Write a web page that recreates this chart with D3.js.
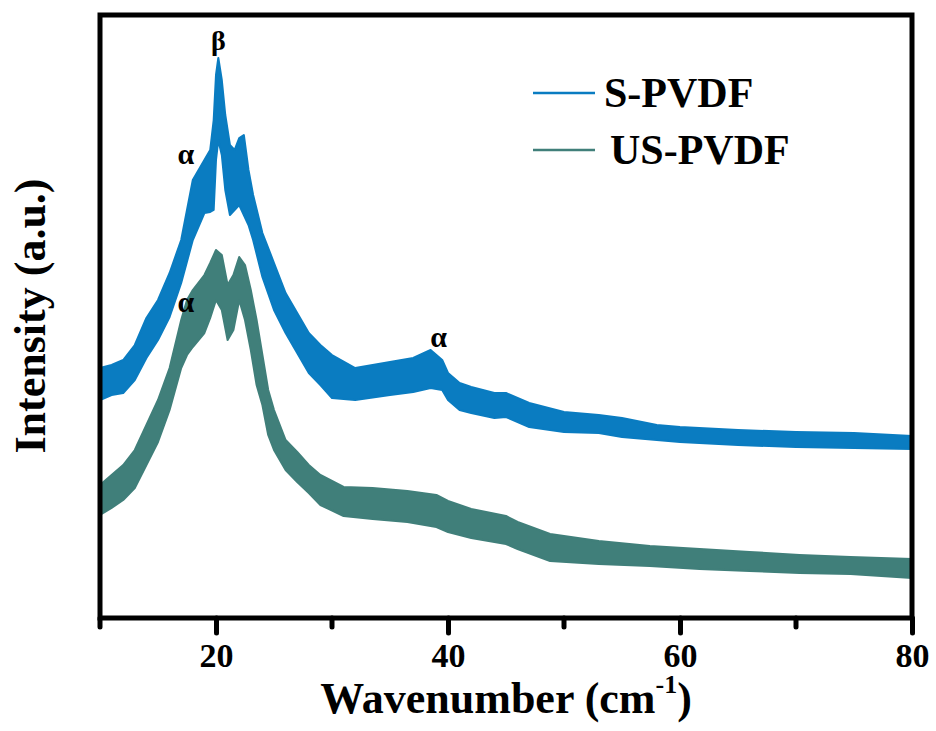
<!DOCTYPE html>
<html>
<head>
    <title>XRD PVDF</title>
    <script src='https://d3js.org/d3.v7.min.js' charset='utf-8'></script>

    <style type="text/css">
        body {
            margin: 0;
            background: #fff;
        }
        .chart text {
            font-family: 'Liberation Serif', 'Times New Roman', serif !important;
            font-weight: 700;
            fill: #000;
        }
    </style>
</head>
<body>
    <svg class='chart'></svg>

    <script type='text/javascript'>
    // S-PVDF: band edges (noise envelope)
    var sX      = [10, 11, 12, 13, 14, 15, 16, 17, 18, 19, 19.5, 19.8, 20, 20.2, 20.5, 20.8, 21.2, 21.6, 22, 22.4, 22.8, 23.2,
                   24, 25, 26, 27, 28, 29, 30, 32, 35, 37, 38.5, 39.5, 40, 41, 42, 44, 45, 47, 50, 53, 55, 58, 60, 65, 70, 75, 80];
    var sTop    = [1250, 1265, 1290, 1365, 1500, 1590, 1725, 1890, 2190, 2290, 2340, 2490, 2715, 2800, 2690, 2515, 2365, 2340, 2400, 2415, 2240, 2115,
                   1925, 1775, 1625, 1525, 1425, 1365, 1315, 1250, 1280, 1300, 1340, 1290, 1225, 1175, 1155, 1125, 1125, 1075, 1030, 1015, 1000, 965, 955, 940, 930, 925, 910];
    var sBottom = [1090, 1115, 1125, 1190, 1300, 1390, 1505, 1675, 1890, 2025, 2030, 2040, 2290, 2390, 2315, 2140, 2015, 2040, 2065, 2015, 1965, 1890,
                   1705, 1540, 1425, 1325, 1225, 1165, 1100, 1090, 1115, 1130, 1150, 1140, 1090, 1040, 1025, 1000, 1005, 955, 930, 925, 905, 890, 880, 865, 855, 850, 845];

    // US-PVDF
    var usX      = [10, 11, 12, 13, 14, 15, 16, 17, 17.5, 18, 19, 19.5, 20, 20.5, 21, 21.5, 22, 22.5, 23, 23.5, 24, 24.5, 25, 26, 27, 28, 29,
                    31, 33.5, 36.5, 39, 40, 42, 45, 46, 48.8, 53, 57.4, 61.7, 66, 70.3, 74.7, 80];
    var usTop    = [665, 715, 765, 840, 965, 1090, 1250, 1490, 1590, 1640, 1715, 1775, 1840, 1815, 1665, 1715, 1805, 1765, 1640, 1490, 1315, 1140, 1040, 890, 830, 765, 715,
                    655, 650, 635, 615, 585, 545, 510, 480, 420, 385, 360, 345, 330, 315, 305, 295];
    var usBottom = [515, 550, 590, 650, 765, 880, 1040, 1250, 1315, 1355, 1425, 1500, 1590, 1540, 1390, 1440, 1590, 1490, 1340, 1165, 1065, 915, 840, 740, 680, 625, 565,
                    510, 495, 480, 455, 430, 400, 370, 345, 285, 270, 260, 245, 235, 225, 220, 200];

    var majorTicks = [20, 40, 60, 80];
    var minorTicks = [10, 30, 50, 70];

    var seriesNames = ['S-PVDF', 'US-PVDF'];
    var seriesColors = ['#0a7cc1', '#407f7a'];

    // peak labels: [x, intensity, symbol]
    var peakLabels = [
        [20.2, 2840, 'β'],
        [17.4, 2270, 'α'],
        [17.4, 1530, 'α'],
        [39.2, 1355, 'α']
    ];

    var width = 936;
    var height = 731;
    var margin = { left: 100, right: 24, top: 15, bottom: 113 };
    var serif = "'Liberation Serif', 'Times New Roman', serif";

    var svg = d3.select('.chart')
        .attr('width', width)
        .attr('height', height);

    var x = d3.scaleLinear()
        .domain([10, 80])
        .range([margin.left, width - margin.right]);

    var y = d3.scaleLinear()
        .domain([0, 3015])
        .range([height - margin.bottom, margin.top]);

    function band(xs, top, bottom) {
        return xs.map(function (v, i) { return { x: v, top: top[i], bottom: bottom[i] }; });
    }

    var area = d3.area()
        .x(function (d) { return x(d.x); })
        .y0(function (d) { return y(d.bottom); })
        .y1(function (d) { return y(d.top); });

    var bands = [band(sX, sTop, sBottom), band(usX, usTop, usBottom)];

    svg.selectAll('.band')
        .data(bands)
        .enter()
            .append('path')
            .attr('class', 'band')
            .attr('d', area)
            .attr('fill', function (d, i) { return seriesColors[i]; })
            .attr('stroke', function (d, i) { return seriesColors[i]; })
            .attr('stroke-width', 2)
            .attr('stroke-linejoin', 'round');

    // frame
    svg.append('rect')
        .attr('x', x(10))
        .attr('y', y(3015))
        .attr('width', x(80) - x(10))
        .attr('height', y(0) - y(3015))
        .attr('fill', 'none')
        .attr('stroke', '#000')
        .attr('stroke-width', 5);

    // bottom axis ticks
    var xAxis = d3.axisBottom(x)
        .tickValues(majorTicks)
        .tickSize(15)
        .tickPadding(10)
        .tickFormat(d3.format('d'));

    var axisG = svg.append('g')
        .attr('transform', 'translate(0,' + y(0) + ')')
        .call(xAxis)
        .attr('font-family', serif);

    axisG.select('.domain').remove();
    axisG.selectAll('line')
        .attr('stroke', '#000')
        .attr('stroke-width', 5)
        .attr('stroke-linecap', 'round');
    axisG.selectAll('text')
        .attr('dy', '0.71em')
        .style('font-family', serif)
        .style('font-weight', 700)
        .style('font-size', '34px')
        .attr('fill', '#000');

    svg.append('g')
        .selectAll('line')
        .data(minorTicks)
        .enter()
            .append('line')
            .attr('x1', function (d) { return x(d); })
            .attr('x2', function (d) { return x(d); })
            .attr('y1', y(0))
            .attr('y2', y(0) + 9)
            .attr('stroke', '#000')
            .attr('stroke-width', 5)
            .attr('stroke-linecap', 'round');

    // axis titles
    var xTitle = svg.append('text')
        .attr('x', (x(10) + x(80)) / 2)
        .attr('y', 713)
        .attr('text-anchor', 'middle')
        .style('font-size', '44px');
    xTitle.append('tspan').text('Wavenumber (cm');
    xTitle.append('tspan').style('font-size', '26px').attr('dy', -20).text('-1');
    xTitle.append('tspan').attr('dy', 20).text(')');

    svg.append('text')
        .attr('transform', 'translate(45,' + 316 + ') rotate(-90)')
        .attr('text-anchor', 'middle')
        .style('font-size', '44px')
        .text('Intensity (a.u.)');

    // legend
    var legend = svg.append('g');
    var legendY = [93, 150];
    var legendTextX = [604, 610];

    seriesNames.forEach(function (name, i) {
        legend.append('line')
            .attr('x1', 533)
            .attr('x2', 595)
            .attr('y1', legendY[i])
            .attr('y2', legendY[i])
            .attr('stroke', seriesColors[i])
            .attr('stroke-width', 2.5);
        legend.append('text')
            .attr('x', legendTextX[i])
            .attr('y', legendY[i] + 10)
            .attr('dy', '0.1em')
            .style('font-size', '42px')
            .text(name);
    });

    // peak annotations
    svg.selectAll('.peak')
        .data(peakLabels)
        .enter()
            .append('text')
            .attr('class', 'peak')
            .attr('x', function (d) { return x(d[0]); })
            .attr('y', function (d) { return y(d[1]); })
            .attr('text-anchor', 'middle')
            .style('font-size', function (d) { return d[2] === 'β' ? '28px' : '30px'; })
            .text(function (d) { return d[2]; });
    </script>
</body>
</html>
